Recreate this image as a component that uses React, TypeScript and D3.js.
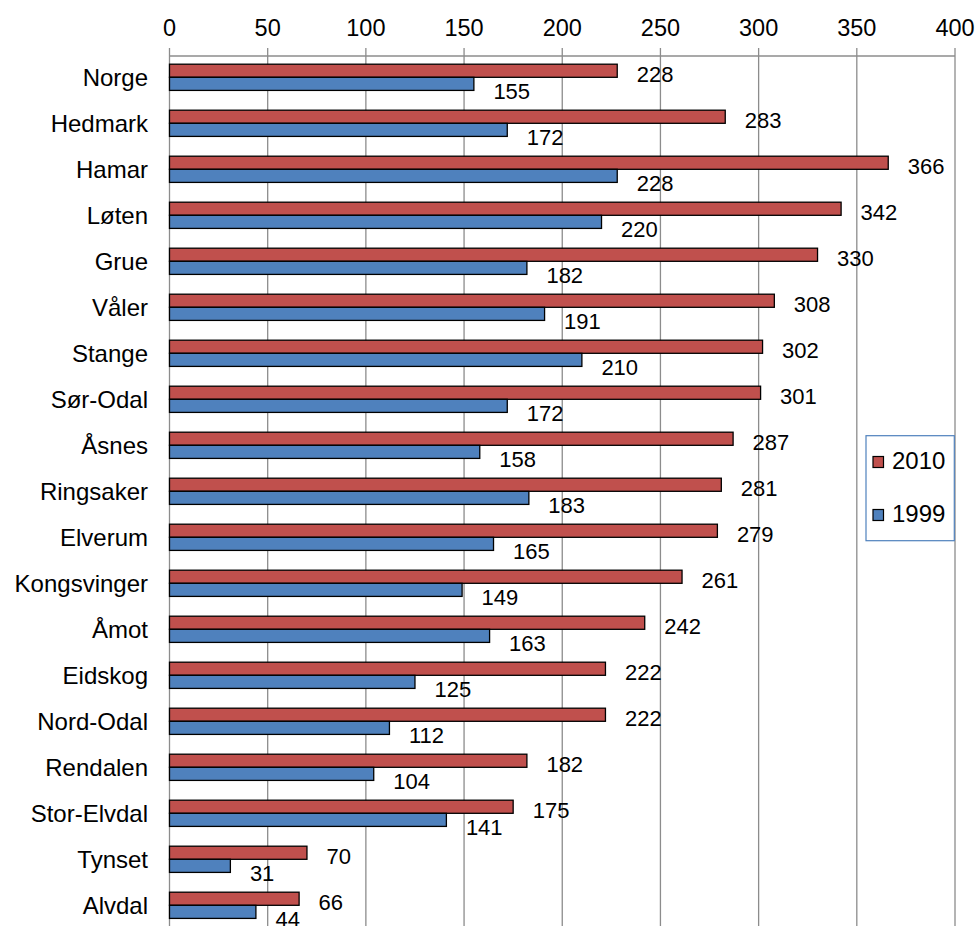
import React from "react";
import * as d3 from "d3";

const categories = ["Norge", "Hedmark", "Hamar", "Løten", "Grue", "Våler", "Stange", "Sør-Odal", "Åsnes", "Ringsaker", "Elverum", "Kongsvinger", "Åmot", "Eidskog", "Nord-Odal", "Rendalen", "Stor-Elvdal", "Tynset", "Alvdal"];
const values2010 = [228, 283, 366, 342, 330, 308, 302, 301, 287, 281, 279, 261, 242, 222, 222, 182, 175, 70, 66];
const values1999 = [155, 172, 228, 220, 182, 191, 210, 172, 158, 183, 165, 149, 163, 125, 112, 104, 141, 31, 44];
const seriesNames = ["2010", "1999"];
const seriesColors = ["#C0504D", "#4F81BD"];
const xTicks = [0, 50, 100, 150, 200, 250, 300, 350, 400];

const W = 979;
const H = 926;
const FONT = "'Liberation Sans', Arial, sans-serif";

export default function App() {
  const x = d3.scaleLinear().domain([0, 400]).range([169.5, 955]);
  const y = d3
    .scaleBand<string>()
    .domain(categories)
    .range([54.3, 54.3 + 19 * 46])
    .paddingInner(0.43)
    .paddingOuter(0.215);
  const inner = d3.scaleBand<string>().domain(seriesNames).range([0, y.bandwidth()]);
  const seriesValues = [values2010, values1999];
  const labelDy = [5.5, 9.5];
  const axisY = 56;

  return (
    <svg
      width={W}
      height={H}
      style={{ position: "absolute", left: 0, top: 0, background: "#fff" }}
      fontFamily={FONT}
    >
      <rect x={0} y={0} width={W} height={H} fill="#fff" />
      {xTicks.map((t) => (
        <g key={t}>
          <line x1={x(t)} x2={x(t)} y1={48} y2={H} stroke="#8c8c8c" strokeWidth={1.3} />
          <text x={x(t)} y={35.5} fontSize={23.5} textAnchor="middle" fill="#000">
            {t}
          </text>
        </g>
      ))}
      <line x1={x(0)} x2={x(400)} y1={axisY} y2={axisY} stroke="#8c8c8c" strokeWidth={1.3} />

      {categories.map((c, i) => (
        <g key={c}>
          {seriesNames.map((s, k) => {
            const v = seriesValues[k][i];
            const by = (y(c) as number) + (inner(s) as number);
            const bh = inner.bandwidth();
            return (
              <g key={s}>
                <rect
                  x={x(0)}
                  y={by}
                  width={x(v) - x(0)}
                  height={bh}
                  fill={seriesColors[k]}
                  stroke="#000"
                  strokeWidth={1.3}
                />
                <text
                  x={x(v) + 19.5}
                  y={by + bh / 2 + labelDy[k]}
                  fontSize={22}
                  dominantBaseline="middle"
                  fill="#000"
                >
                  {v}
                </text>
              </g>
            );
          })}
          <text
            x={148}
            y={(y(c) as number) + y.bandwidth() / 2 + 2.5}
            fontSize={24}
            textAnchor="end"
            dominantBaseline="middle"
            fill="#000"
          >
            {c}
          </text>
        </g>
      ))}

      <rect x={866} y={435.7} width={88.3} height={105} fill="#fff" stroke="#4F81BD" strokeWidth={1.2} />
      {seriesNames.map((s, k) => (
        <g key={s}>
          <rect
            x={873}
            y={456.5 + k * 53}
            width={10.5}
            height={11}
            fill={seriesColors[k]}
            stroke="#000"
            strokeWidth={1.2}
          />
          <text x={892} y={463 + k * 53} fontSize={24} dominantBaseline="middle" fill="#000">
            {s}
          </text>
        </g>
      ))}
    </svg>
  );
}
